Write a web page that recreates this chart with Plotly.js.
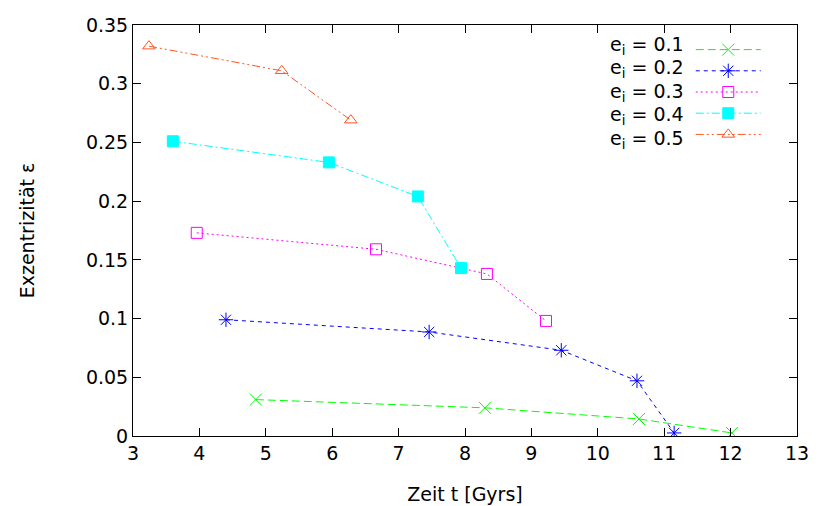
<!DOCTYPE html>
<html>
<head>
<meta charset="utf-8">
<script src="https://cdn.plot.ly/plotly-3.0.1.min.js"></script>
<style>html,body{margin:0;padding:0;background:#fff;}#chart{width:830px;height:506px;}</style>
</head>
<body>
<div id="chart"></div>
<script>
const labels = ["e<sub>i</sub> = 0.1","e<sub>i</sub> = 0.2","e<sub>i</sub> = 0.3","e<sub>i</sub> = 0.4","e<sub>i</sub> = 0.5"];
const t01 = [4.85, 8.30, 10.62, 12.02];
const e01 = [0.031, 0.024, 0.0145, 0.0026];
const t02 = [4.40, 7.46, 9.45, 10.59, 11.15];
const e02 = [0.099, 0.0886, 0.073, 0.047, 0.0026];
const t03 = [3.96, 6.66, 8.33, 9.22];
const e03 = [0.173, 0.159, 0.138, 0.098];
const t04 = [3.60, 5.95, 7.29, 7.94];
const e04 = [0.251, 0.233, 0.204, 0.143];
const t05 = [3.24, 5.24, 6.28];
const e05 = [0.332, 0.311, 0.269];
const xTicks = [3,4,5,6,7,8,9,10,11,12,13];
const yTicks = [0,0.05,0.1,0.15,0.2,0.25,0.3,0.35];
const yTickText = ["0","0.05","0.1","0.15","0.2","0.25","0.3","0.35"];

const FONT = "DejaVu Sans, Liberation Sans, Arial, sans-serif";
const series = [
  {x:t01, y:e01, color:"#00ff00", dash:"8px,4px", symbol:"x-thin-open", size:12},
  {x:t02, y:e02, color:"#0000ff", dash:"4px,4px", symbol:"asterisk-open", size:12},
  {x:t03, y:e03, color:"#ff00ff", dash:"2px,3px", symbol:"square-open", size:11},
  {x:t04, y:e04, color:"#00ffff", dash:"8px,3px,2px,3px", symbol:"square", size:11},
  {x:t05, y:e05, color:"#ff5522", dash:"8px,3px,2px,3px,2px,3px", symbol:"triangle-up-open", size:11}
];
const traces = series.map((s,i)=>({
  x:s.x, y:s.y, type:"scatter", mode:"lines+markers", name:" ",
  line:{color:s.color, width:1, dash:s.dash},
  marker:{symbol:s.symbol, size:s.size, color:s.color, line:{color:s.color, width:1}}
}));
const ann = labels.map((txt,i)=>({
  xref:"paper", yref:"paper", x:0.833, y:1 - (20 + i*23.5)/411,
  xanchor:"right", yanchor:"middle", text:txt, showarrow:false,
  font:{family:FONT, size:19, color:"#000"}
}));
const layout = {
  width:830, height:506,
  margin:{l:133, r:33, t:25, b:70},
  paper_bgcolor:"#fff", plot_bgcolor:"#fff",
  font:{family:FONT, size:19, color:"#000"},
  showlegend:true,
  legend:{x:0.84, y:1-9/411, xanchor:"left", yanchor:"top", bgcolor:"rgba(0,0,0,0)",
          itemwidth:65, font:{size:14}, tracegroupgap:0},
  annotations:ann,
  xaxis:{range:[3,13], tickvals:xTicks, ticks:"inside", ticklen:8, tickcolor:"#000",
         showline:true, linecolor:"#000", linewidth:1, mirror:"ticks", showgrid:false, zeroline:false,
         tickfont:{size:19}, title:{text:"Zeit t [Gyrs]", font:{size:19}, standoff:24}},
  yaxis:{range:[0,0.35], tickvals:yTicks, ticktext:yTickText, ticks:"inside", ticklen:8, tickcolor:"#000",
         showline:true, linecolor:"#000", linewidth:1, mirror:"ticks", showgrid:false, zeroline:false,
         tickfont:{size:19}, title:{text:"Exzentrizität ε", font:{size:19}, standoff:46}}
};
Plotly.newPlot("chart", traces, layout, {displayModeBar:false, staticPlot:true});
</script>
</body>
</html>
